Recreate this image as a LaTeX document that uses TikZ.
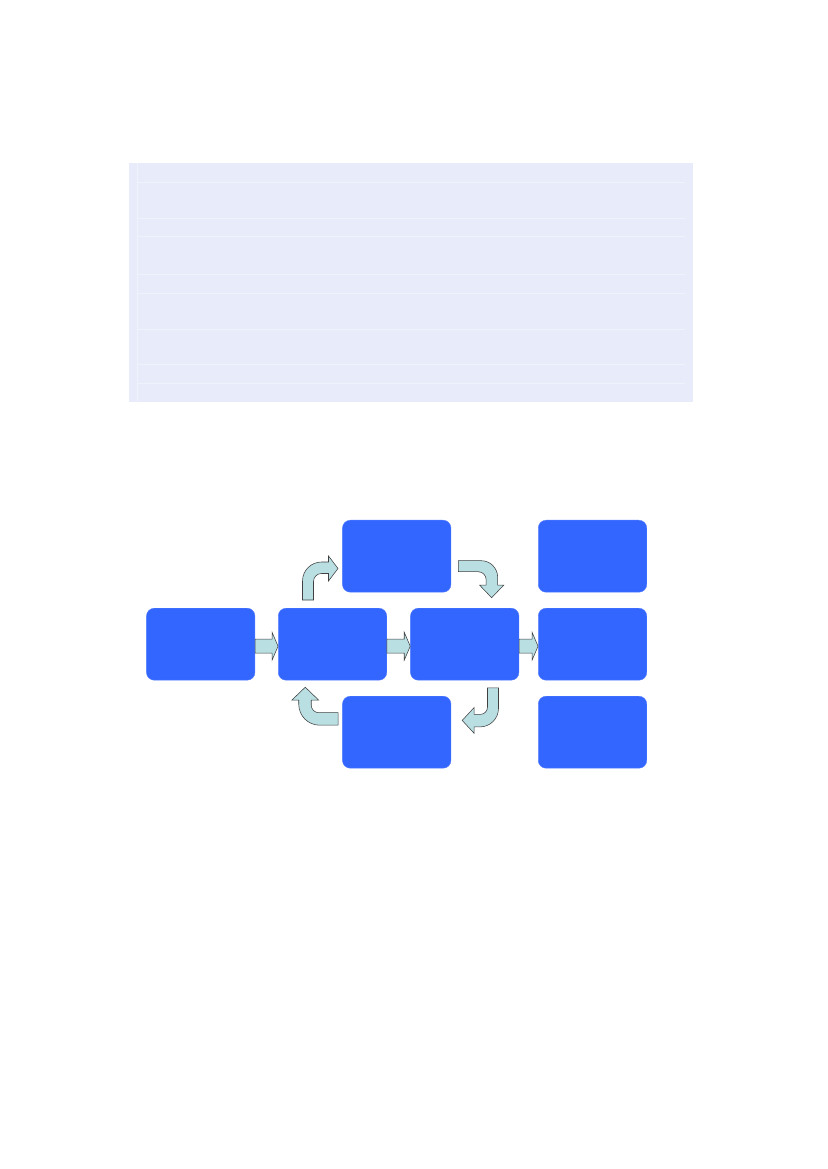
\documentclass[tikz,border=0pt]{standalone}
\usepackage{tikz}
\usetikzlibrary{calc}
\definecolor{tablefill}{RGB}{232,235,249}
\definecolor{tableline}{RGB}{240,242,251}
\definecolor{boxblue}{RGB}{51,102,255}
\definecolor{arrowfill}{RGB}{186,223,227}

\begin{document}
\begin{tikzpicture}[x=0.2539mm,y=-0.2539mm,
	blockbox/.style={fill=boxblue,draw=boxblue!85!white,line width=0.3pt,rounded corners=2mm,minimum width=27.55mm,minimum height=18.28mm,inner sep=0pt},
	flow/.style={fill=arrowfill,draw=black!75,line width=0.4pt,line join=miter}]
	\useasboundingbox (0,0) rectangle (827,1169);
% table
	\fill[tablefill] (128.5,163) rectangle (693,402);
	\draw[tableline,line width=0.5pt] (137,163) -- (137,402);
	\draw[tableline,line width=0.5pt] (137,182.5) -- (684.5,182.5) (137,218.5) -- (684.5,218.5);
	\draw[tableline,line width=0.5pt] (137,236.5) -- (684.5,236.5) (137,274) -- (684.5,274);
	\draw[tableline,line width=0.5pt] (137,293) -- (684.5,293) (137,329) -- (684.5,329);
	\draw[tableline,line width=0.5pt] (137,364.5) -- (684.5,364.5) (137,383.5) -- (684.5,383.5);
% boxes
	\node[blockbox] (input) at (200.7,644.2) {};
	\node[blockbox] (plan) at (332.5,644.2) {};
	\node[blockbox] (check) at (464.7,644.2) {};
	\node[blockbox] (top) at (396.7,556.2) {};
	\node[blockbox] (bottom) at (396.7,732.2) {};
	\node[blockbox] (outa) at (592.5,556.2) {};
	\node[blockbox] (outb) at (592.5,644.2) {};
	\node[blockbox] (outc) at (592.5,732.2) {};
% straight arrows
	\draw[flow] ($(input.east)+(0,-5)$) -- ($(plan.west)+(-6,-5)$) -- ($(plan.west)+(-6,-12)$) -- ($(plan.west)+(0,2)$) -- ($(plan.west)+(-6,16)$) -- ($(plan.west)+(-6,9)$) -- ($(input.east)+(0,9)$) -- cycle;
	\draw[flow] ($(plan.east)+(0,-5)$) -- ($(check.west)+(-6,-5)$) -- ($(check.west)+(-6,-12)$) -- ($(check.west)+(0,2)$) -- ($(check.west)+(-6,16)$) -- ($(check.west)+(-6,9)$) -- ($(plan.east)+(0,9)$) -- cycle;
	\draw[flow] ($(check.east)+(0,-5)$) -- ($(outb.west)+(-6,-5)$) -- ($(outb.west)+(-6,-12)$) -- ($(outb.west)+(0,2)$) -- ($(outb.west)+(-6,16)$) -- ($(outb.west)+(-6,9)$) -- ($(check.east)+(0,9)$) -- cycle;
% bent arrows round the loop
	\draw[flow,shift={(plan.north)}] (-30,-8) -- (-30,-27) .. controls (-30,-37.5) and (-21.5,-46) .. (-11,-46) -- (-4,-46) -- (-4,-52) -- (5.5,-39.5) -- (-4,-27) -- (-4,-34.5) -- (-11,-34.5) .. controls (-15.4,-34.5) and (-19,-30.9) .. (-19,-26.5) -- (-19,-8) -- cycle;
	\draw[flow,shift={(top.east)}] (7.3,4.5) -- (30,4.5) .. controls (39.1,4.5) and (46.5,11.9) .. (46.5,21) -- (46.5,29) -- (52.5,29) -- (40.5,41.5) -- (28.5,29) -- (35,29) -- (35,23.5) .. controls (35,19.1) and (31.4,15.5) .. (27,15.5) -- (7.3,15.5) -- cycle;
	\draw[flow,shift={(check.south)}] (22.8,7.5) -- (33.8,7.5) -- (33.8,28) .. controls (33.8,38.2) and (25.5,46.5) .. (15.3,46.5) -- (9.5,46.5) -- (9.5,53) -- (-2.5,40) -- (9.5,27) -- (9.5,34) -- (15.5,34) .. controls (19.5,34) and (22.8,30.7) .. (22.8,26.7) -- cycle;
	\draw[flow,shift={(bottom.west)}] (-4.2,-19.5) -- (-4.2,-7) -- (-22.5,-7) .. controls (-34.1,-7) and (-43.5,-16.4) .. (-43.5,-28) -- (-43.5,-32) -- (-50.5,-32) -- (-37,-45) -- (-23.5,-32) -- (-31,-32) -- (-31,-27) .. controls (-31,-22.9) and (-27.6,-19.5) .. (-23.5,-19.5) -- cycle;
\end{tikzpicture}
\end{document}
